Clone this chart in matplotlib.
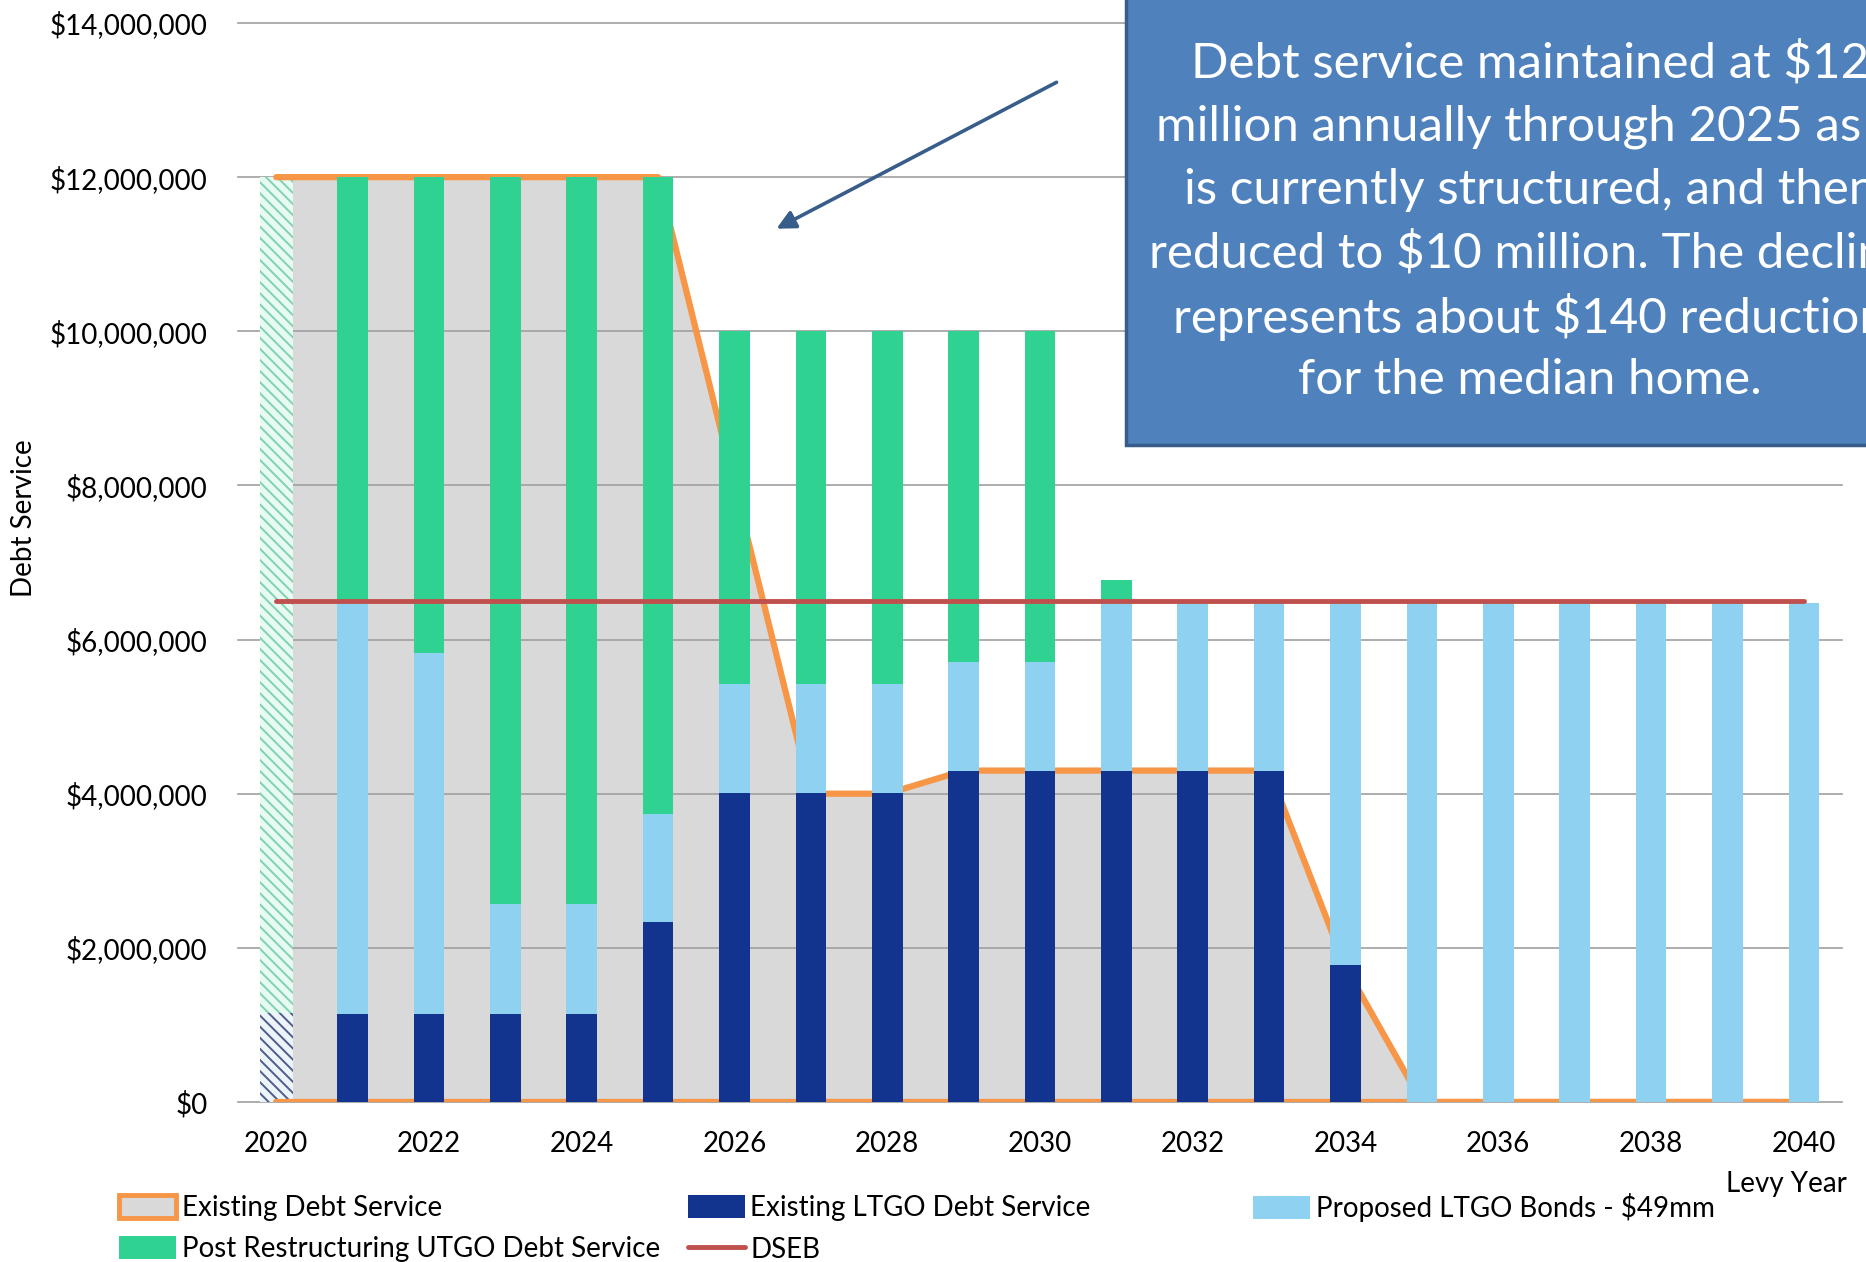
import numpy as np
import matplotlib.pyplot as plt
from matplotlib.patches import Patch, Rectangle, FancyArrowPatch
from matplotlib.lines import Line2D
from matplotlib.ticker import FuncFormatter

plt.rcParams["font.family"] = ["Lato", "DejaVu Sans"]
plt.rcParams["hatch.linewidth"] = 1.4

W, H = 1866, 1262

years = np.arange(2020, 2041)
# $ millions (2020 column is the hatched one)
existing_ds = [12.0, 12.0, 12.0, 12.0, 12.0, 12.0, 8.0, 4.0, 4.0, 4.3, 4.3,
               4.3, 4.3, 4.3, 1.75, 0, 0, 0, 0, 0, 0]
existing_ltgo = [1.16, 1.14, 1.14, 1.14, 1.14, 2.33, 4.01, 4.01, 4.01, 4.29, 4.29,
                 4.29, 4.29, 4.29, 1.78, 0, 0, 0, 0, 0, 0]
proposed_ltgo = [0, 5.33, 4.69, 1.43, 1.43, 1.41, 1.41, 1.41, 1.41, 1.42, 1.42,
                 2.19, 2.19, 2.19, 4.70, 6.48, 6.48, 6.48, 6.48, 6.48, 6.48]
post_utgo = [10.84, 5.53, 6.17, 9.43, 9.43, 8.26, 4.58, 4.58, 4.58, 4.29, 4.29,
             0.29, 0, 0, 0, 0, 0, 0, 0, 0, 0]
dseb = [6.5] * 21

callout_lines = ["Debt service maintained at $12",
                 "million annually through 2025 as it",
                 "is currently structured, and then",
                 "reduced to $10 million. The decline",
                 "represents about $140 reduction",
                 "for the median home."]

GRAY = "#d9d9d9"
ORANGE = "#f79646"
NAVY = "#12348f"
SKY = "#8ed1f0"
GREEN = "#30d292"
RED = "#c0504d"
BOXBLUE = "#4f81bd"
DARKBLUE = "#385d8a"

M = 1e6
ex = np.array(existing_ds) * M
ltgo = np.array(existing_ltgo) * M
prop = np.array(proposed_ltgo) * M
utgo = np.array(post_utgo) * M

fig = plt.figure(figsize=(W / 100, H / 100), dpi=100)
ax = fig.add_axes([238 / W, 1 - 1102 / H, 1604 / W, 1079 / H])

# existing debt service area
ax.fill_between(years, ex, 0, color=GRAY, lw=0, zorder=1)
for v in range(0, 14_000_001, 2_000_000):
    ax.axhline(v, color="#a0a0a0", lw=1.2, zorder=1.5, clip_on=False)

# 2020 hatched column
ax.bar(years[:1], ltgo[:1], 0.43, facecolor="#eef5fa", edgecolor="#4d5d8c",
       hatch="\\\\\\", lw=0, zorder=1.8)
ax.bar(years[:1], utgo[:1], 0.43, bottom=ltgo[:1], facecolor="#e8fbf3",
       edgecolor="#7fd2b0", hatch="\\\\\\", lw=0, zorder=1.8)

ax.plot(years, ex, color=ORANGE, lw=4.5, solid_capstyle="round",
        solid_joinstyle="round", zorder=1.9)
ax.plot(years, np.zeros(len(years)), color=ORANGE, lw=4.5,
        solid_capstyle="round", zorder=1.9)

s = slice(1, None)
ax.bar(years[s], ltgo[s], 0.4, color=NAVY, zorder=2)
ax.bar(years[s], prop[s], 0.4, bottom=ltgo[s], color=SKY, zorder=2)
ax.bar(years[s], utgo[s], 0.4, bottom=ltgo[s] + prop[s], color=GREEN, zorder=2)

ax.plot(years, np.array(dseb) * M, color=RED, lw=3.5,
        solid_capstyle="round", zorder=3)

ax.set_xlim(2019.5, 2040.5)
ax.set_ylim(0, 14e6)
ax.set_xticks(years[::2])
ax.set_yticks(range(0, 14_000_001, 2_000_000))
ax.yaxis.set_major_formatter(FuncFormatter(lambda v, p: f"${v:,.0f}"))
ax.tick_params(axis="y", length=0, pad=22, labelsize=20)
ax.tick_params(axis="x", length=0, pad=21, labelsize=20)
for sp in ax.spines.values():
    sp.set_visible(False)

fig.text(24 / W, 1 - 518 / H, "Debt Service", rotation=90,
         ha="center", va="center", fontsize=20)
fig.text(1847 / W, 1 - 1184 / H, "Levy Year", ha="right", va="center", fontsize=20)

# legend, laid out as three columns like the original
h_exist = Patch(facecolor=GRAY, edgecolor=ORANGE, lw=3.5, label="Existing Debt Service")
h_ltgo = Patch(facecolor=NAVY, label="Existing LTGO Debt Service")
h_prop = Patch(facecolor=SKY, label="Proposed LTGO Bonds - $49mm")
h_utgo = Patch(facecolor=GREEN, label="Post Restructuring UTGO Debt Service")
h_dseb = Line2D([], [], color=RED, lw=3.5, solid_capstyle="round", label="DSEB")

leg_kw = dict(loc="upper left", frameon=False, fontsize=20, handlelength=2.05,
              handleheight=0.9, handletextpad=0.2, labelspacing=0.55,
              borderpad=0, borderaxespad=0)
top = 1 - 1195 / H
fig.legend(handles=[h_exist, h_utgo], bbox_to_anchor=(119 / W, top), **leg_kw)
fig.legend(handles=[h_ltgo, h_dseb], bbox_to_anchor=(688 / W, top), **leg_kw)
fig.legend(handles=[h_prop], bbox_to_anchor=(1253 / W, top + 2 / H), **leg_kw)

# callout box and arrow
fig.add_artist(Rectangle((1126 / W, 1 - 445 / H), 0.6, 0.4, transform=fig.transFigure,
                         facecolor=BOXBLUE, edgecolor=DARKBLUE, lw=2.5, zorder=5))
for i, line in enumerate(callout_lines):
    fig.text(1530 / W, 1 - (63 + 63.4 * i) / H, line, ha="center", va="center",
             color="white", fontsize=35.5, parse_math=False, zorder=6)
fig.add_artist(FancyArrowPatch((1059 / W, 1 - 81 / H), (774 / W, 1 - 230 / H),
                               transform=fig.transFigure, arrowstyle="-|>",
                               mutation_scale=28, color=DARKBLUE, lw=2.6, zorder=6))

fig.savefig("out.png", dpi=100)
